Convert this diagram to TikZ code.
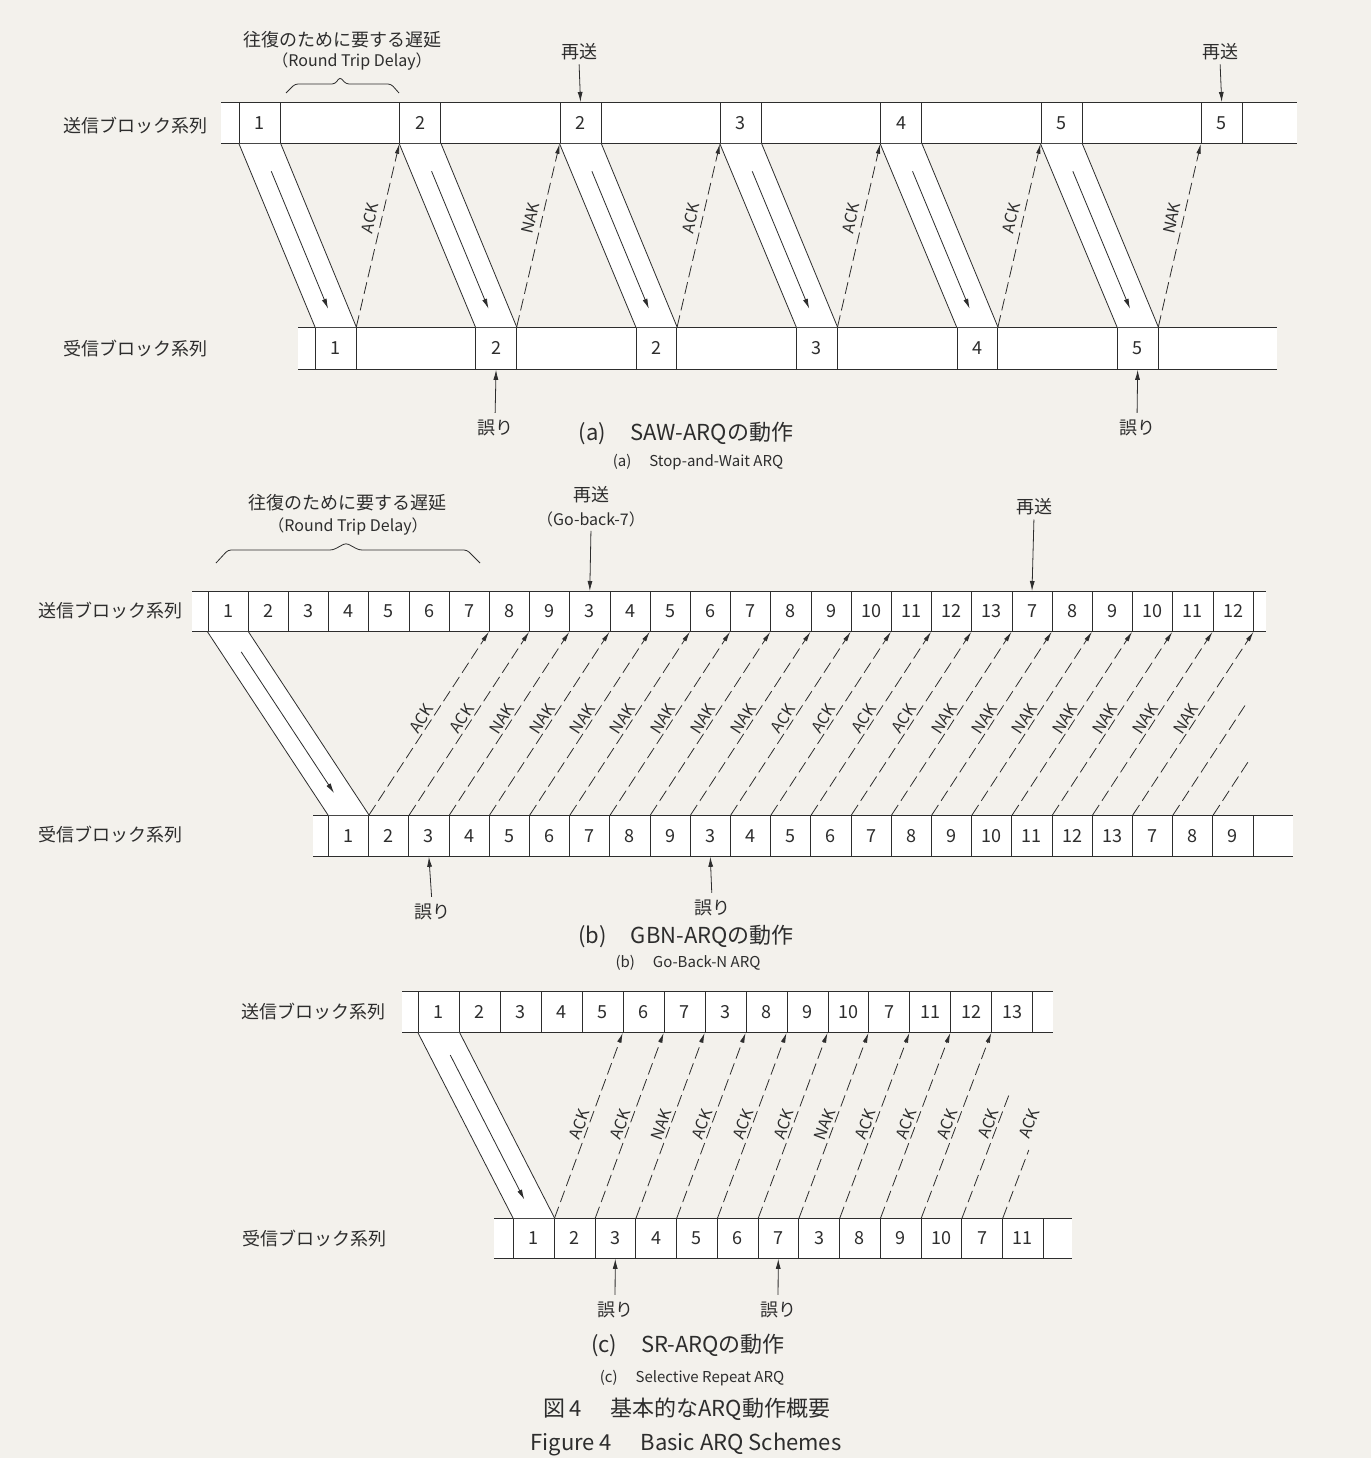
\documentclass[tikz,border=0pt]{standalone}
\usepackage{fontspec}
\setmainfont{Noto Sans CJK JP}
\usetikzlibrary{arrows.meta,calc}
\definecolor{bg}{RGB}{243,241,236}
\definecolor{ink}{RGB}{45,45,45}
\begin{document}
\begin{tikzpicture}[x=1pt,y=-1pt,
  row/.style={fill=white,inner sep=0pt,anchor=north west},
  cell/.style={draw=ink,fill=white,line width=0.8pt,inner sep=0pt,anchor=north west,text=ink,font=\fontsize{18}{18}\selectfont},
  edge/.style={draw=ink,line width=0.8pt},
  ret/.style={draw=ink,line width=0.8pt,dash pattern=on 12pt off 5pt,-{Latex[length=10pt,width=4.5pt]}},
  retcut/.style={draw=ink,line width=0.8pt,dash pattern=on 12pt off 5pt},
  lbl/.style={sloped,above,text=ink,font=\fontsize{16}{16}\selectfont,inner sep=2.5pt},
  jp/.style={text=ink,font=\fontsize{18}{18}\selectfont,inner sep=1pt},
  lat/.style={text=ink,font=\fontsize{16}{16}\selectfont,inner sep=1pt},
  capbig/.style={text=ink,font=\fontsize{22}{22}\selectfont,inner sep=1pt},
  capsmall/.style={text=ink,font=\fontsize{15}{15}\selectfont,inner sep=1pt},
  ptr/.style={draw=ink,line width=0.8pt,-{Latex[length=10pt,width=5pt]}},
  brace/.style={draw=ink,line width=0.8pt,rounded corners=3pt}
]
\useasboundingbox (0,0) rectangle (1371,1458);
\fill[bg] (0,0) rectangle (1371,1458);

% ================= (a) =================
\node[row,minimum width=1076pt,minimum height=41pt] (aSrow) at (221,102) {};
\node[row,minimum width=979pt,minimum height=42pt] (aRrow) at (298,327) {};
\foreach \r in {aSrow,aRrow}{
  \draw[edge] (\r.north west) -- (\r.north east);
  \draw[edge] (\r.south west) -- (\r.south east);
}
\foreach \lab [count=\i] in {1,2,2,3,4,5,5}{
  \pgfmathsetmacro\xx{239+160.3*(\i-1)}
  \node[cell,minimum width=41pt,minimum height=41pt] (as\i) at (\xx,102) {\lab};
}
\foreach \lab [count=\i] in {1,2,2,3,4,5}{
  \pgfmathsetmacro\xx{315+160.4*(\i-1)}
  \node[cell,minimum width=40.5pt,minimum height=42pt] (ar\i) at (\xx,327) {\lab};
}
\foreach \i in {1,...,6}{
  \fill[white] (as\i.south west) -- (ar\i.north west) -- (ar\i.north east) -- (as\i.south east) -- cycle;
  \draw[edge] (as\i.south west) -- (ar\i.north west);
  \draw[edge] (as\i.south east) -- (ar\i.north east);
  \draw[ptr] ($(as\i.south)!0.15!(ar\i.north)$) -- ($(as\i.south)!0.9!(ar\i.north)$);
}
\foreach \i/\lab in {1/ACK,2/NAK,3/ACK,4/ACK,5/ACK,6/NAK}{
  \pgfmathtruncatemacro\j{\i+1}
  \draw[ret] (ar\i.north east) -- node[lbl,pos=0.58,inner sep=5pt]{\lab} (as\j.south west);
}
\node[jp] (aSL) at (135,126) {送信ブロック系列};
\node[jp] (aRL) at (135,349) {受信ブロック系列};
\node[jp] (aA1) at (342,40) {往復のために要する遅延};
\node[lat] (aA2) at (352,62) {（Round Trip Delay）};
\draw[brace] (286,93) -- (295,84) -- (335,84) -- (340,77) -- (346,84) -- (391,84) -- (399,93);
\node[jp] (aT1) at (579,52) {再送};
\draw[ptr,shorten <=3pt] (aT1.south) -- (as3.north);
\node[jp] (aT2) at (1220,52) {再送};
\draw[ptr,shorten <=3pt] (aT2.south) -- (as7.north);
\node[jp] (aE1) at (495,428) {誤り};
\draw[ptr,shorten <=6pt] (aE1.north) -- (ar2.south);
\node[jp] (aE2) at (1137,428) {誤り};
\draw[ptr,shorten <=6pt] (aE2.north) -- (ar6.south);
\node[capbig] (aC1) at (686,433) {(a)\hspace{1.1em}SAW-ARQの動作};
\node[capsmall] (aC2) at (698,462) {(a)\hspace{1.2em}Stop-and-Wait ARQ};

% ================= (b) =================
\node[row,minimum width=1074pt,minimum height=40pt] (bSrow) at (192,591) {};
\node[row,minimum width=980pt,minimum height=41pt] (bRrow) at (313,815) {};
\foreach \r in {bSrow,bRrow}{
  \draw[edge] (\r.north west) -- (\r.north east);
  \draw[edge] (\r.south west) -- (\r.south east);
}
\foreach \lab [count=\i] in {1,2,3,4,5,6,7,8,9,3,4,5,6,7,8,9,10,11,12,13,7,8,9,10,11,12}{
  \pgfmathsetmacro\xx{207.5+40.2*(\i-1)}
  \node[cell,minimum width=40.2pt,minimum height=40pt] (bs\i) at (\xx,591) {\lab};
}
\foreach \lab [count=\i] in {1,2,3,4,5,6,7,8,9,3,4,5,6,7,8,9,10,11,12,13,7,8,9}{
  \pgfmathsetmacro\xx{328+40.2*(\i-1)}
  \node[cell,minimum width=40.2pt,minimum height=41pt] (br\i) at (\xx,815) {\lab};
}
\fill[white] (bs1.south west) -- (br1.north west) -- (br1.north east) -- (bs1.south east) -- cycle;
\draw[edge] (bs1.south west) -- (br1.north west);
\draw[edge] (bs1.south east) -- (br1.north east);
\draw[ptr] ($(bs1.south)!0.11!(br1.north)$) -- ($(bs1.south)!0.88!(br1.north)$);
\foreach \k/\lab in {1/ACK,2/ACK,3/NAK,4/NAK,5/NAK,6/NAK,7/NAK,8/NAK,9/NAK,10/ACK,11/ACK,12/ACK,13/ACK,14/NAK,15/NAK,16/NAK,17/NAK,18/NAK,19/NAK}{
  \pgfmathtruncatemacro\j{\k+7}
  \draw[ret] (br\k.north east) -- node[lbl,pos=0.5]{\lab} (bs\j.south west);
}
\draw[ret] (br20.north east) -- node[lbl,pos=0.5]{NAK} (bs26.south east);
\coordinate (bt21) at ($(br21.north east)+(73.6,-112)$);
\coordinate (bt22) at ($(br22.north east)+(34.8,-53)$);
\draw[retcut] (br21.north east) -- (bt21);
\draw[retcut] (br22.north east) -- (bt22);
\node[jp] (bSL) at (110,611) {送信ブロック系列};
\node[jp] (bRL) at (110,835) {受信ブロック系列};
\node[jp] (bA1) at (347,503) {往復のために要する遅延};
\node[lat] (bA2) at (348,527) {（Round Trip Delay）};
\draw[brace] (216,563) -- (228,550) -- (333,550) -- (346,543) -- (359,550) -- (467,550) -- (480,563);
\node[jp] (bT1) at (591,495) {再送};
\node[lat] (bT1b) at (591,519) {（Go-back-7）};
\draw[ptr,shorten <=3pt] (bT1b.south) -- (bs10.north);
\node[jp] (bT2) at (1034,507) {再送};
\draw[ptr,shorten <=3pt] (bT2.south) -- (bs21.north);
\node[jp] (bE1) at (432,912) {誤り};
\draw[ptr,shorten <=6pt] (bE1.north) -- (br3.south);
\node[jp] (bE2) at (712,908) {誤り};
\draw[ptr,shorten <=6pt] (bE2.north) -- (br10.south);
\node[capbig] (bC1) at (686,936) {(b)\hspace{1.1em}GBN-ARQの動作};
\node[capsmall] (bC2) at (688,963) {(b)\hspace{1.2em}Go-Back-N ARQ};

% ================= (c) =================
\node[row,minimum width=651pt,minimum height=41pt] (cSrow) at (402,991) {};
\node[row,minimum width=578pt,minimum height=40pt] (cRrow) at (494,1218) {};
\foreach \r in {cSrow,cRrow}{
  \draw[edge] (\r.north west) -- (\r.north east);
  \draw[edge] (\r.south west) -- (\r.south east);
}
\foreach \lab [count=\i] in {1,2,3,4,5,6,7,3,8,9,10,7,11,12,13}{
  \pgfmathsetmacro\xx{418+40.95*(\i-1)}
  \node[cell,minimum width=40.95pt,minimum height=41pt] (cs\i) at (\xx,991) {\lab};
}
\foreach \lab [count=\i] in {1,2,3,4,5,6,7,3,8,9,10,7,11}{
  \pgfmathsetmacro\xx{513+40.75*(\i-1)}
  \node[cell,minimum width=40.75pt,minimum height=40pt] (cr\i) at (\xx,1218) {\lab};
}
\fill[white] (cs1.south west) -- (cr1.north west) -- (cr1.north east) -- (cs1.south east) -- cycle;
\draw[edge] (cs1.south west) -- (cr1.north west);
\draw[edge] (cs1.south east) -- (cr1.north east);
\draw[ptr] ($(cs1.south)!0.12!(cr1.north)$) -- ($(cs1.south)!0.9!(cr1.north)$);
\foreach \k/\lab in {1/ACK,2/ACK,3/NAK,4/ACK,5/ACK,6/ACK,7/NAK,8/ACK,9/ACK,10/ACK}{
  \pgfmathtruncatemacro\j{\k+5}
  \draw[ret] (cr\k.north east) -- node[lbl,pos=0.49]{\lab} (cs\j.south west);
}
\coordinate (ct11) at ($(cr11.north east)+(47.6,-125)$);
\coordinate (ct12) at ($(cr12.north east)+(26,-68)$);
\draw[retcut] (cr11.north east) -- (ct11);
\draw[retcut] (cr12.north east) -- (ct12);
\path (cr11.north east) -- node[lbl,pos=0.49]{ACK} ($(cr11.north east)+(71,-186)$);
\path (cr12.north east) -- node[lbl,pos=0.49]{ACK} ($(cr12.north east)+(71,-186)$);
\node[jp] (cSL) at (313,1012) {送信ブロック系列};
\node[jp] (cRL) at (314,1239) {受信ブロック系列};
\node[jp] (cE1) at (615,1310) {誤り};
\draw[ptr,shorten <=6pt] (cE1.north) -- (cr3.south);
\node[jp] (cE2) at (778,1310) {誤り};
\draw[ptr,shorten <=6pt] (cE2.north) -- (cr7.south);
\node[capbig] (cC1) at (688,1345) {(c)\hspace{1.1em}SR-ARQの動作};
\node[capsmall] (cC2) at (692,1378) {(c)\hspace{1.2em}Selective Repeat ARQ};
\node[capbig] (fig1) at (687,1409) {図\,4\hspace{1.3em}基本的なARQ動作概要};
\node[capbig] (fig2) at (686,1444) {Figure 4\hspace{1.3em}Basic ARQ Schemes};
\end{tikzpicture}
\end{document}
